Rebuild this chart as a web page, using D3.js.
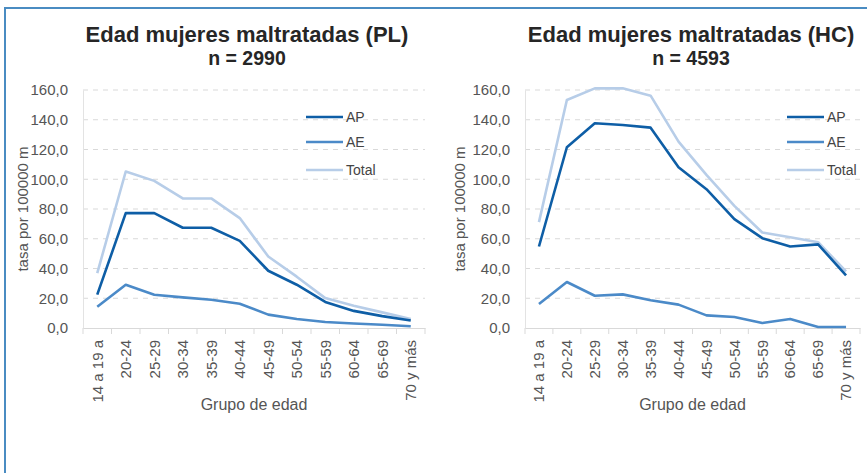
<!DOCTYPE html>
<html>
<head>
<meta charset="utf-8">
<script src="https://cdn.jsdelivr.net/npm/d3@7"></script>
<style>
  body { margin: 0; background: #fff; }
  svg { display: block; font-family: "Liberation Sans", Arial, sans-serif; }
  .grid line { stroke: #d9d9d9; stroke-dasharray: 5,5; }
  .tick text { fill: #555; }
</style>
</head>
<body>
<svg id="viz" width="867" height="473"></svg>
<script>
var ageGroups = ['14 a 19 a', '20-24', '25-29', '30-34', '35-39', '40-44', '45-49', '50-54', '55-59', '60-64', '65-69', '70 y más'];
var yTicks = [0, 20, 40, 60, 80, 100, 120, 140, 160];
var seriesNames = ['AP', 'AE', 'Total'];
var colors = ['#0e5ea6', '#4b8ac8', '#b7cde8'];

// PL
var plAP    = [22.4, 77.2, 77.2, 67.4, 67.4, 58.6, 38.5, 29.1, 17.5, 11.5, 8.0, 5.0];
var plAE    = [14.3, 29.1, 22.4, 20.6, 19.0, 16.3, 9.0, 6.0, 4.0, 3.0, 2.2, 1.2];
var plTotal = [36.9, 105.2, 98.9, 87.1, 87.1, 73.9, 48.1, 34.5, 20.1, 15.0, 10.5, 6.0];

// HC
var hcAP    = [54.8, 121.5, 137.6, 136.5, 134.7, 108.1, 93.3, 73.2, 60.4, 54.8, 56.2, 35.4];
var hcAE    = [16.1, 30.9, 21.7, 22.6, 18.6, 15.7, 8.5, 7.4, 3.4, 6.0, 0.7, 0.7];
var hcTotal = [71.2, 153.3, 161.1, 161.1, 156.2, 125.3, 103.0, 82.1, 64.2, 61.0, 57.7, 38.0];

var svg = d3.select('#viz');

// frame
svg.append('path')
	.attr('d', 'M5,473 L5,8 L867,8')
	.attr('fill', 'none')
	.attr('stroke', '#4a8cc2')
	.attr('stroke-width', 2);

function drawChart(cfg) {
	var g = svg.append('g');

	var x = d3.scaleBand()
		.domain(ageGroups)
		.range([cfg.left, cfg.right]);

	var y = d3.scaleLinear()
		.domain([0, 160])
		.range([328, 90]);

	var fmt = function(d) { return d3.format('.1f')(d).replace('.', ','); };

	// grid
	g.append('g').attr('class', 'grid')
		.selectAll('line')
		.data(yTicks.slice(1))
		.enter().append('line')
		.attr('x1', cfg.left)
		.attr('x2', cfg.right)
		.attr('y1', function(d) { return y(d); })
		.attr('y2', function(d) { return y(d); });

	// y axis
	var ya = g.append('g')
		.attr('transform', 'translate(' + cfg.left + ',0)')
		.call(d3.axisLeft(y).tickValues(yTicks).tickFormat(fmt).tickSize(0).tickPadding(15));
	ya.select('.domain').attr('stroke', '#e3e3e3');
	ya.selectAll('text').style('font-size', '15px');

	// x axis
	var xa = g.append('g')
		.attr('transform', 'translate(0,328)')
		.call(d3.axisBottom(x).tickSize(0));
	xa.select('.domain').attr('stroke', '#d9d9d9');
	xa.selectAll('text')
		.style('font-size', '15px')
		.attr('text-anchor', 'end')
		.attr('transform', 'rotate(-90)')
		.attr('x', -12)
		.attr('y', 0)
		.attr('dy', '0.35em');

	// band boundary ticks
	g.append('g').selectAll('line')
		.data(ageGroups)
		.enter().append('line')
		.attr('x1', function(d) { return x(d); })
		.attr('x2', function(d) { return x(d); })
		.attr('y1', 328)
		.attr('y2', 334)
		.attr('stroke', '#d9d9d9');
	g.append('line')
		.attr('x1', cfg.right).attr('x2', cfg.right)
		.attr('y1', 328).attr('y2', 334)
		.attr('stroke', '#d9d9d9');

	// lines
	var line = d3.line()
		.x(function(d, i) { return x(ageGroups[i]) + x.bandwidth() / 2; })
		.y(function(d) { return y(d); });

	[2, 1, 0].forEach(function(k) {
		g.append('path')
			.datum(cfg.series[k])
			.attr('d', line)
			.attr('fill', 'none')
			.attr('stroke', colors[k])
			.attr('stroke-width', 2.6)
			.attr('stroke-linejoin', 'round');
	});

	// legend
	var lg = g.append('g').selectAll('g')
		.data(seriesNames)
		.enter().append('g')
		.attr('transform', function(d, i) { return 'translate(' + cfg.legendX + ',' + [117, 142, 170][i] + ')'; });
	lg.append('line')
		.attr('x1', 0).attr('x2', 37)
		.attr('stroke', function(d, i) { return colors[i]; })
		.attr('stroke-width', 2.6);
	lg.append('text')
		.attr('x', 40)
		.attr('dy', '0.35em')
		.style('font-size', '14px')
		.attr('fill', '#444')
		.text(function(d) { return d; });

	// titles
	var cx = (cfg.left + cfg.right) / 2;
	g.append('text')
		.attr('x', cfg.titleX).attr('y', 42)
		.attr('text-anchor', 'middle')
		.style('font-size', '22px').style('font-weight', 'bold')
		.attr('fill', '#262626')
		.text(cfg.title);
	g.append('text')
		.attr('x', cfg.titleX).attr('y', 65)
		.attr('text-anchor', 'middle')
		.style('font-size', '19.5px').style('font-weight', 'bold')
		.attr('fill', '#262626')
		.text(cfg.subtitle);

	g.append('text')
		.attr('transform', 'translate(' + cfg.yTitleX + ',209) rotate(-90)')
		.attr('text-anchor', 'middle')
		.attr('dy', '0.35em')
		.style('font-size', '15px')
		.attr('fill', '#555')
		.text('tasa por 100000 m');

	g.append('text')
		.attr('x', cx).attr('y', 410)
		.attr('text-anchor', 'middle')
		.style('font-size', '16px')
		.attr('fill', '#555')
		.text('Grupo de edad');
}

drawChart({
	left: 83, right: 425, legendX: 306, yTitleX: 23, titleX: 247,
	title: 'Edad mujeres maltratadas (PL)', subtitle: 'n = 2990',
	series: [plAP, plAE, plTotal]
});

drawChart({
	left: 525, right: 860, legendX: 787, yTitleX: 460, titleX: 691,
	title: 'Edad mujeres maltratadas (HC)', subtitle: 'n = 4593',
	series: [hcAP, hcAE, hcTotal]
});
</script>
</body>
</html>
